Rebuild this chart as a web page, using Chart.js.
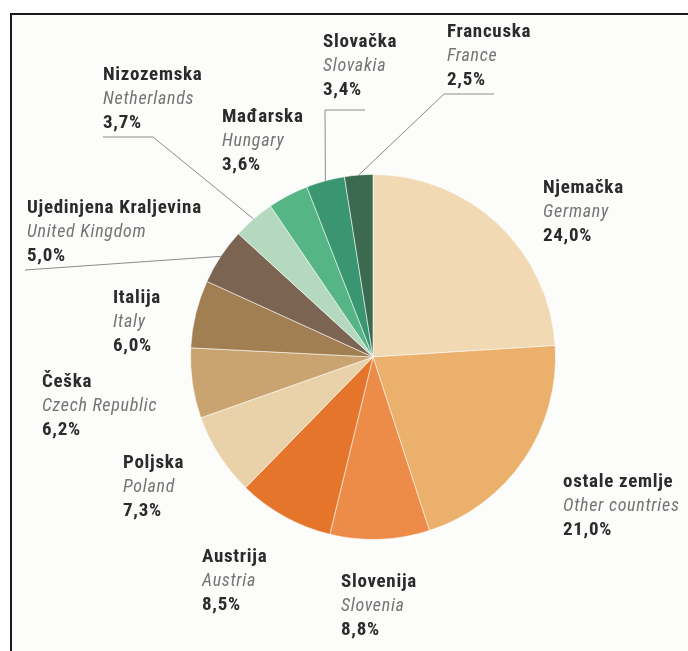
<!DOCTYPE html>
<html>
<head>
<meta charset="utf-8">
<script src="https://cdn.jsdelivr.net/npm/chart.js@4"></script>
<style>
  html, body { margin: 0; padding: 0; background: #ffffff; }
  #wrap { width: 688px; height: 651px; position: relative; }
</style>
</head>
<body>
<div id="wrap"><canvas id="pie"></canvas></div>
<script>
// podaci (udio u izvozu, %)
const countriesHr = ['Njemačka', 'ostale zemlje', 'Slovenija', 'Austrija', 'Poljska', 'Češka',
  'Italija', 'Ujedinjena Kraljevina', 'Nizozemska', 'Mađarska', 'Slovačka', 'Francuska'];
const countriesEn = ['Germany', 'Other countries', 'Slovenia', 'Austria', 'Poland', 'Czech Republic',
  'Italy', 'United Kingdom', 'Netherlands', 'Hungary', 'Slovakia', 'France'];
const shares = [24.0, 21.0, 8.8, 8.5, 7.3, 6.2, 6.0, 5.0, 3.7, 3.6, 3.4, 2.5];

const sliceColors = ['#f1d9b4', '#eab06c', '#ec8c48', '#e6752c', '#e9d1a9', '#c9a470',
  '#a27f52', '#7b6451', '#b5d9bf', '#55b585', '#3a9670', '#3c6a50'];

// polozaj natpisa (lijevi rub, sredina prvog retka)
const labelPos = [[543, 188], [563, 482], [341, 582], [202, 557], [123, 463], [42, 382],
  [113, 298], [27, 208], [103, 75], [222, 117], [323, 42], [447, 32]];

// linije do kriski: tocke od natpisa prema luku
const leaders = {
  7: [[25, 270]],
  8: [[103, 137], [153, 137]],
  10: [[365, 110], [325, 110]],
  11: [[494, 94], [444, 94]]
};

const FONT = '"Liberation Sans Narrow", "Roboto Condensed", "DejaVu Sans Condensed", sans-serif';
const fmt = v => v.toFixed(1).replace('.', ',') + '%';

const framePlugin = {
  id: 'frame',
  beforeDraw(chart) {
    const ctx = chart.ctx;
    ctx.save();
    ctx.fillStyle = '#fcfcfa';
    ctx.fillRect(10, 13, chart.width - 10, chart.height - 13);
    ctx.fillStyle = '#1a1a1a';
    ctx.fillRect(10, 13, chart.width - 10, 2);
    ctx.fillRect(10, 13, 2, chart.height - 13);
    ctx.restore();
  }
};

const labelPlugin = {
  id: 'labels',
  afterDraw(chart) {
    const ctx = chart.ctx;
    const arcs = chart.getDatasetMeta(0).data;
    ctx.save();
    // linije
    ctx.strokeStyle = '#8c8c8c';
    ctx.lineWidth = 1;
    Object.keys(leaders).forEach(k => {
      const arc = arcs[k];
      const mid = (arc.startAngle + arc.endAngle) / 2;
      const ex = arc.x + Math.cos(mid) * arc.outerRadius;
      const ey = arc.y + Math.sin(mid) * arc.outerRadius;
      const pts = leaders[k];
      ctx.beginPath();
      ctx.moveTo(pts[0][0], pts[0][1]);
      pts.slice(1).forEach(p => ctx.lineTo(p[0], p[1]));
      ctx.lineTo(ex, ey);
      ctx.stroke();
    });
    // tekst
    ctx.textBaseline = 'middle';
    ctx.textAlign = 'left';
    ctx.letterSpacing = '0.7px';
    countriesHr.forEach((name, i) => {
      const [x, y] = labelPos[i];
      ctx.fillStyle = '#2b2b2b';
      ctx.font = 'bold 19px ' + FONT;
      ctx.fillText(name, x, y);
      ctx.fillStyle = '#747474';
      ctx.font = 'italic 18px ' + FONT;
      ctx.fillText(countriesEn[i], x, y + 24);
      ctx.fillStyle = '#2b2b2b';
      ctx.font = 'bold 19px ' + FONT;
      ctx.fillText(fmt(shares[i]), x, y + 48);
    });
    ctx.restore();
  }
};

new Chart(document.getElementById('pie'), {
  type: 'pie',
  data: {
    labels: countriesHr,
    datasets: [{
      data: shares,
      backgroundColor: sliceColors,
      borderColor: 'rgba(255,255,255,0.55)',
      borderWidth: 1
    }]
  },
  options: {
    responsive: true,
    maintainAspectRatio: false,
    animation: false,
    layout: { padding: { left: 190, right: 132, top: 174, bottom: 111 } },
    plugins: {
      legend: { display: false },
      tooltip: { enabled: false }
    }
  },
  plugins: [framePlugin, labelPlugin]
});
</script>
</body>
</html>
